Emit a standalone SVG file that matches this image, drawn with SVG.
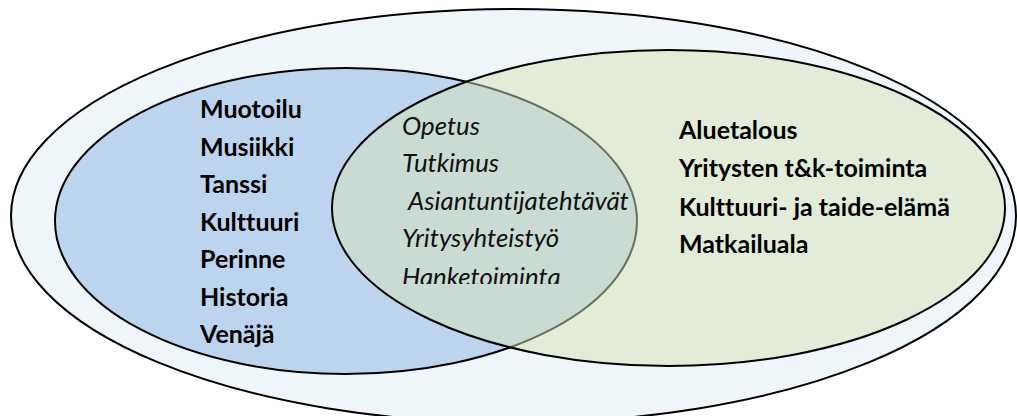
<svg xmlns="http://www.w3.org/2000/svg" width="1017" height="416" viewBox="0 0 1017 416">
  <defs>
    <style>
      .ring { stroke: #000; stroke-width: 2; }
      text { font-variant-ligatures: none; font-feature-settings: "liga" 0, "clig" 0, "dlig" 0; }
      .bold { font-family: Lato, "Open Sans", "Liberation Sans", sans-serif; font-weight: bold; font-size: 25px; fill: #000; }
      .ital { font-family: Lato, "Open Sans", "Liberation Sans", sans-serif; font-style: italic; font-size: 25.8px; fill: #111; }
    </style>
    <clipPath id="clipLast"><rect x="380" y="255" width="300" height="29"/></clipPath>
  </defs>
  <rect width="1017" height="416" fill="#ffffff"/>
  <g id="outer">
    <ellipse class="ring" cx="513.5" cy="216" rx="502.5" ry="207" fill="#EEF6F9"/>
  </g>
  <g id="culture">
    <ellipse class="ring" cx="346" cy="221" rx="291" ry="153" fill="#BDD4EE"/>
    <g class="bold">
      <text x="200" y="118">Muotoilu</text>
      <text x="200" y="156">Musiikki</text>
      <text x="200" y="193">Tanssi</text>
      <text x="200" y="231">Kulttuuri</text>
      <text x="200" y="268">Perinne</text>
      <text x="200" y="306">Historia</text>
      <text x="200" y="343">Venäjä</text>
    </g>
  </g>
  <g id="region">
    <ellipse class="ring" cx="668.5" cy="208" rx="336.5" ry="158" fill="#D6E2B8" fill-opacity="0.5"/>
    <g class="bold">
      <text x="679" y="139">Aluetalous</text>
      <text x="679" y="177">Yritysten t&amp;k-toiminta</text>
      <text x="679" y="216">Kulttuuri- ja taide-elämä</text>
      <text x="679" y="253">Matkailuala</text>
    </g>
  </g>
  <g id="overlap">
    <g class="ital">
      <text x="402" y="135">Opetus</text>
      <text x="402" y="172">Tutkimus</text>
      <text x="408" y="210">Asiantuntijatehtävät</text>
      <text x="402" y="247">Yritysyhteistyö</text>
      <text x="402" y="286" clip-path="url(#clipLast)">Hanketoiminta</text>
    </g>
  </g>
  <g id="connectors"/>
</svg>
